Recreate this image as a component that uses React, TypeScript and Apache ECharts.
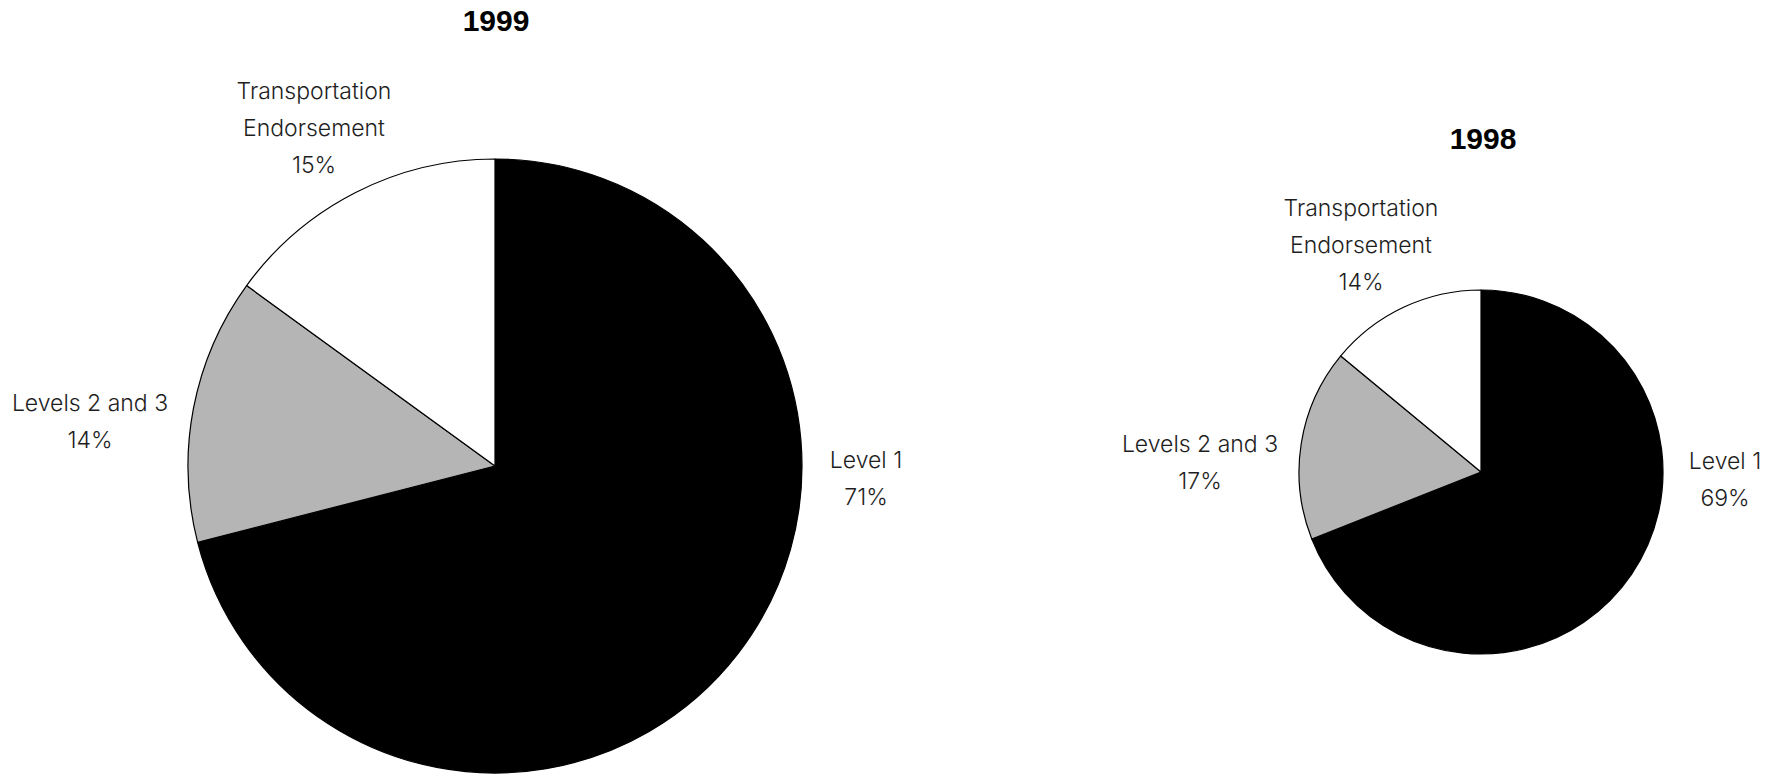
import React, { useEffect, useRef } from "react";
import * as echarts from "echarts";

const categories = ["Level 1", "Levels 2 and 3", "Transportation Endorsement"];
const values1999 = [71, 14, 15];
const values1998 = [69, 17, 14];
const sliceColors = ["#000000", "#b5b5b5", "#ffffff"];
const titles = ["1999", "1998"];

const FONT = "Inter";

function labelText(p: any) {
  const name = String(p.name).replace("Transportation ", "Transportation\n");
  return name + "\n" + p.value + "%";
}

export default function App() {
  const ref = useRef<HTMLDivElement>(null);
  useEffect(() => {
    document.body.style.margin = "0";
    const chart = echarts.init(ref.current!, null, { renderer: "svg" });
    const leftPos = [
      [866, 478],
      [90, 421],
      [314, 128],
    ];
    const rightPos = [
      [1725, 479],
      [1200, 462],
      [1361, 245],
    ];
    const mk = (vals: number[], center: number[], radius: number, pos: number[][]) => ({
      type: "pie",
      center,
      radius,
      startAngle: 90,
      clockwise: true,
      silent: true,
      avoidLabelOverlap: false,
      data: categories.map((c, i) => ({ name: c, value: vals[i], itemStyle: { color: sliceColors[i] } })),
      itemStyle: { borderColor: "#000", borderWidth: 1.2 },
      label: {
        show: true,
        position: "outside",
        formatter: labelText,
        fontFamily: FONT,
        fontWeight: 300,
        fontSize: 23,
        lineHeight: 37,
        color: "#1e1e1e",
        align: "center",
      },
      labelLine: { show: false },
      labelLayout: (p: any) => ({
        x: pos[p.dataIndex][0],
        y: pos[p.dataIndex][1],
        align: "center",
        verticalAlign: "middle",
      }),
      emphasis: { disabled: true },
    });
    chart.setOption({
      animation: false,
      title: [
        {
          text: titles[0],
          left: 491,
          top: 0,
          textAlign: "center",
          textStyle: { fontFamily: "Liberation Sans", fontWeight: "bold", fontSize: 30, color: "#000" },
        },
        {
          text: titles[1],
          left: 1478,
          top: 118,
          textAlign: "center",
          textStyle: { fontFamily: "Liberation Sans", fontWeight: "bold", fontSize: 30, color: "#000" },
        },
      ],
      series: [
        mk(values1999, [495, 466], 307, leftPos),
        mk(values1998, [1481, 472], 182, rightPos),
      ],
    });
    return () => chart.dispose();
  }, []);
  return <div ref={ref} style={{ width: 1784, height: 776 }} />;
}
